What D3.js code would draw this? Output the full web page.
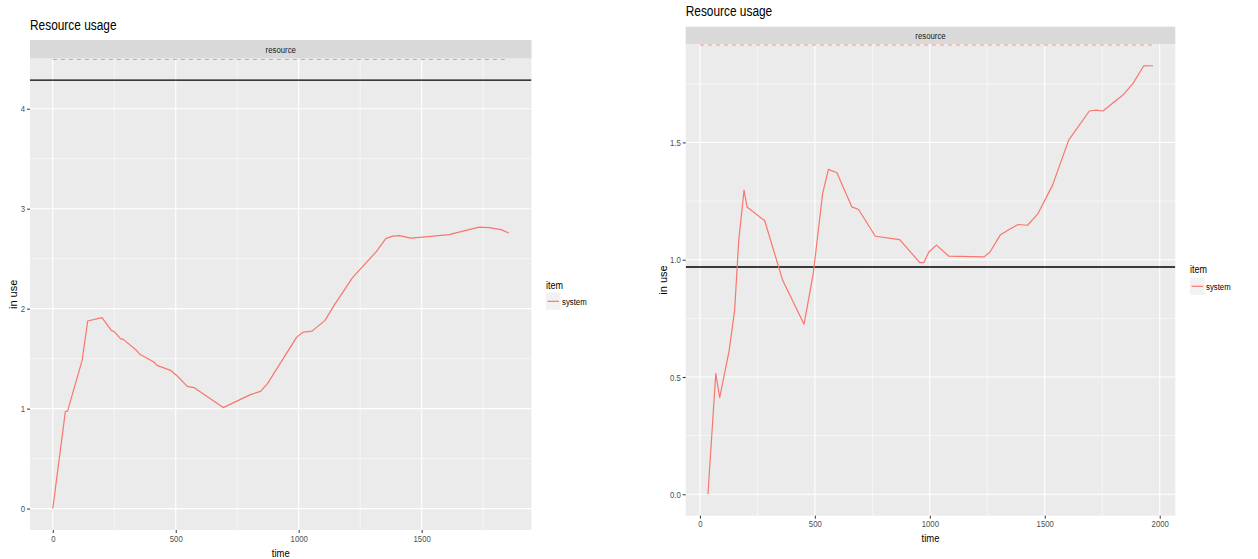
<!DOCTYPE html>
<html>
<head>
<meta charset="utf-8">
<script src="https://cdn.jsdelivr.net/npm/d3@7"></script>
<style>
  body { margin: 0; background: #fff; }
  svg text { font-family: "Liberation Sans", Arial, sans-serif; }
</style>
</head>
<body>
<svg id="chart" width="1258" height="559"></svg>
<script>
// ---- data: resource "system" usage over time, two simulation runs ----
const leftTime  = [0, 51, 60, 119, 142, 200, 238, 252, 275, 288, 340, 354, 411, 424, 479, 506, 547, 574,
                   693, 804, 845, 873, 992, 1019, 1054, 1107, 1144, 1219, 1314, 1354, 1382, 1409, 1456,
                   1504, 1612, 1680, 1734, 1775, 1823, 1854];
const leftUsage = [0, 0.97, 0.975, 1.48, 1.876, 1.91, 1.783, 1.766, 1.70, 1.69, 1.583, 1.543, 1.466, 1.433,
                   1.383, 1.326, 1.223, 1.21, 1.01, 1.14, 1.173, 1.25, 1.715, 1.766, 1.775, 1.883, 2.033,
                   2.31, 2.566, 2.70, 2.726, 2.73, 2.706, 2.716, 2.74, 2.783, 2.816, 2.81, 2.79, 2.756];
const leftLimit = 4.286;

const rightTime  = [35, 69, 86, 127, 151, 169, 192, 205, 282, 360, 453, 493, 534, 559, 596, 661, 690, 763,
                    869, 956, 974, 996, 1029, 1083, 1236, 1262, 1306, 1345, 1384, 1425, 1469, 1534, 1604,
                    1694, 1724, 1753, 1840, 1884, 1930, 1971];
const rightUsage = [0, 0.514, 0.412, 0.611, 0.784, 1.083, 1.297, 1.225, 1.166, 0.912, 0.725, 0.941, 1.283,
                    1.385, 1.371, 1.225, 1.214, 1.10, 1.086, 0.988, 0.988, 1.033, 1.062, 1.015, 1.012,
                    1.033, 1.105, 1.129, 1.15, 1.147, 1.194, 1.318, 1.51, 1.634, 1.638, 1.634, 1.702,
                    1.752, 1.826, 1.827];
const rightLimit = 0.969;

const leftXTicks  = [0, 500, 1000, 1500];
const leftXMinor  = [250, 750, 1250, 1750];
const leftYTicks  = [0, 1, 2, 3, 4];
const leftYMinor  = [0.5, 1.5, 2.5, 3.5];
const rightXTicks = [0, 500, 1000, 1500, 2000];
const rightXMinor = [250, 750, 1250, 1750];
const rightYTicks = [0, 0.5, 1, 1.5];
const rightYMinor = [0.25, 0.75, 1.25, 1.75];
const rightYLabels = ["0.0", "0.5", "1.0", "1.5"];

const titleText = "Resource usage";
const stripText = "resource";
const seriesName = "system";
const legendTitle = "item";
const xTitle = "time";
const yTitle = "in use";

// ---- layout of each plot ----
const plots = [
  { time: leftTime, usage: leftUsage, limit: leftLimit,
    xTicks: leftXTicks, xMinor: leftXMinor, yTicks: leftYTicks, yMinor: leftYMinor,
    yFmt: d => String(d),
    box: { x0: 30, x1: 531.5, stripTop: 40, top: 58.7, bottom: 530 },
    titleY: 30, yTitleX: 16.5, xTitleY: 556.5,
    legend: { x: 546, titleY: 288.5, keyTop: 292.5 } },
  { time: rightTime, usage: rightUsage, limit: rightLimit,
    xTicks: rightXTicks, xMinor: rightXMinor, yTicks: rightYTicks, yMinor: rightYMinor,
    yFmt: d => rightYLabels[rightYTicks.indexOf(d)],
    box: { x0: 685.7, x1: 1175.3, stripTop: 26.7, top: 44.3, bottom: 515.7 },
    titleY: 16.3, yTitleX: 666.7, xTitleY: 541.5,
    legend: { x: 1190, titleY: 273, keyTop: 277.5 } }
];

const svg = d3.select("#chart");
const lineColor = "#F8766D";
const squeeze = 0.82;   // horizontal glyph compression of the upright labels

function expand(lo, hi) {
  const r = hi - lo;
  return [lo - 0.05 * r, hi + 0.05 * r];
}

plots.forEach((p, i) => {
  const b = p.box;
  const g = svg.append("g");

  const x = d3.scaleLinear()
    .domain(expand(d3.min(p.time), d3.max(p.time)))
    .range([b.x0, b.x1]);
  const y = d3.scaleLinear()
    .domain(expand(Math.min(d3.min(p.usage), p.limit), Math.max(d3.max(p.usage), p.limit)))
    .range([b.bottom, b.top]);

  // title
  g.append("text").attr("class", "upright")
    .attr("x", b.x0).attr("y", p.titleY)
    .attr("font-size", 14.5).attr("fill", "#000")
    .text(titleText);

  // facet strip
  g.append("rect")
    .attr("x", b.x0).attr("y", b.stripTop)
    .attr("width", b.x1 - b.x0).attr("height", b.top - b.stripTop)
    .attr("fill", "#D9D9D9");
  g.append("text").attr("class", "upright")
    .attr("x", (b.x0 + b.x1) / 2).attr("y", (b.stripTop + b.top) / 2)
    .attr("dy", "0.35em").attr("text-anchor", "middle")
    .attr("font-size", 9.5).attr("fill", "#1A1A1A")
    .text(stripText);

  // panel
  const clipId = "clip" + i;
  svg.append("clipPath").attr("id", clipId)
    .append("rect")
    .attr("x", b.x0).attr("y", b.top)
    .attr("width", b.x1 - b.x0).attr("height", b.bottom - b.top);

  g.append("rect")
    .attr("x", b.x0).attr("y", b.top)
    .attr("width", b.x1 - b.x0).attr("height", b.bottom - b.top)
    .attr("fill", "#EBEBEB");

  const grid = g.append("g").attr("clip-path", `url(#${clipId})`);
  grid.selectAll(".xminor").data(p.xMinor.filter(v => x(v) > b.x0 && x(v) < b.x1))
    .join("line")
    .attr("x1", d => x(d)).attr("x2", d => x(d))
    .attr("y1", b.top).attr("y2", b.bottom)
    .attr("stroke", "#fff").attr("stroke-width", 0.55);
  grid.selectAll(".yminor").data(p.yMinor.filter(v => y(v) > b.top && y(v) < b.bottom))
    .join("line")
    .attr("y1", d => y(d)).attr("y2", d => y(d))
    .attr("x1", b.x0).attr("x2", b.x1)
    .attr("stroke", "#fff").attr("stroke-width", 0.55);
  grid.selectAll(".xmajor").data(p.xTicks)
    .join("line")
    .attr("x1", d => x(d)).attr("x2", d => x(d))
    .attr("y1", b.top).attr("y2", b.bottom)
    .attr("stroke", "#fff").attr("stroke-width", 1.1);
  grid.selectAll(".ymajor").data(p.yTicks)
    .join("line")
    .attr("y1", d => y(d)).attr("y2", d => y(d))
    .attr("x1", b.x0).attr("x2", b.x1)
    .attr("stroke", "#fff").attr("stroke-width", 1.1);

  // unbounded queue level, drawn at the top edge of the panel
  grid.append("line")
    .attr("x1", x(0)).attr("x2", x(d3.max(p.time)))
    .attr("y1", b.top + 0.6).attr("y2", b.top + 0.6)
    .attr("stroke", lineColor).attr("stroke-opacity", 0.7)
    .attr("stroke-width", 1.2).attr("stroke-dasharray", "4,4");

  // limit line
  grid.append("line")
    .attr("x1", b.x0).attr("x2", b.x1)
    .attr("y1", y(p.limit)).attr("y2", y(p.limit))
    .attr("stroke", "#000").attr("stroke-width", 1.3);

  // usage series
  const pts = p.time.map((t, k) => [t, p.usage[k]]);
  grid.append("path")
    .datum(pts)
    .attr("d", d3.line().x(d => x(d[0])).y(d => y(d[1])))
    .attr("fill", "none")
    .attr("stroke", lineColor).attr("stroke-width", 1.2)
    .attr("stroke-linejoin", "round");

  // axes
  const xAxis = g.append("g")
    .attr("transform", `translate(0,${b.bottom})`)
    .call(d3.axisBottom(x).tickValues(p.xTicks).tickSize(3).tickPadding(2).tickFormat(d => String(d)));
  const yAxis = g.append("g")
    .attr("transform", `translate(${b.x0},0)`)
    .call(d3.axisLeft(y).tickValues(p.yTicks).tickSize(3).tickPadding(1.8).tickFormat(p.yFmt));
  [xAxis, yAxis].forEach(a => {
    a.select(".domain").remove();
    a.selectAll(".tick line").attr("stroke", "#333").attr("stroke-width", 1);
    a.selectAll(".tick text").attr("class", "upright")
      .attr("fill", "#4D4D4D").attr("font-size", 9.5)
      .attr("font-family", null);
  });

  // axis titles
  g.append("text").attr("class", "upright")
    .attr("x", (b.x0 + b.x1) / 2).attr("y", p.xTitleY)
    .attr("text-anchor", "middle").attr("font-size", 11.5).attr("fill", "#000")
    .text(xTitle);
  g.append("text")
    .attr("transform", `translate(${p.yTitleX},${(b.top + b.bottom) / 2}) rotate(-90)`)
    .attr("text-anchor", "middle").attr("font-size", 11).attr("fill", "#000")
    .text(yTitle);

  // legend
  const L = p.legend;
  g.append("text").attr("class", "upright")
    .attr("x", L.x).attr("y", L.titleY)
    .attr("font-size", 11).attr("fill", "#000")
    .text(legendTitle);
  g.append("rect")
    .attr("x", L.x).attr("y", L.keyTop)
    .attr("width", 14.5).attr("height", 17.3)
    .attr("fill", "#F2F2F2");
  g.append("line")
    .attr("x1", L.x + 1.5).attr("x2", L.x + 13)
    .attr("y1", L.keyTop + 8.8).attr("y2", L.keyTop + 8.8)
    .attr("stroke", lineColor).attr("stroke-width", 1.2);
  g.append("text").attr("class", "upright")
    .attr("x", L.x + 16).attr("y", L.keyTop + 8.8)
    .attr("dy", "0.35em").attr("font-size", 9.5).attr("fill", "#000")
    .text(seriesName);
});

// narrow the upright labels around their anchor points
svg.selectAll("text.upright").each(function () {
  const t = d3.select(this);
  const tx = +t.attr("x") || 0, ty = +t.attr("y") || 0;
  t.attr("x", 0).attr("y", 0)
   .attr("transform", `translate(${tx},${ty}) scale(${squeeze},1)`);
});
</script>
</body>
</html>
